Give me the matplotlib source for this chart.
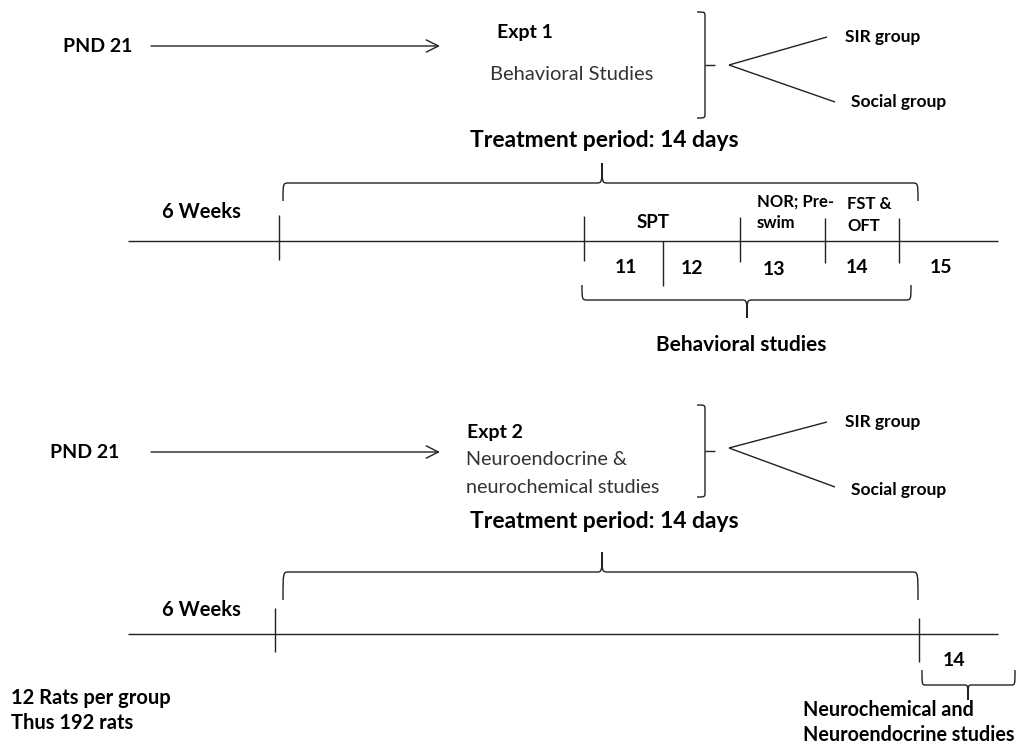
import matplotlib.pyplot as plt
from matplotlib.path import Path
from matplotlib.patches import PathPatch

plt.rcParams['font.family'] = ['Lato', 'DejaVu Sans']

# ---- Diagram content ----
start_label = "PND 21"
expt_titles = ["Expt 1", "Expt 2"]
expt1_desc = ["Behavioral Studies"]
expt2_desc = ["Neuroendocrine &", "neurochemical studies"]
groups = ["SIR group", "Social group"]
period_label = "Treatment period: 14 days"
age_label = "6 Weeks"
day_labels = ["11", "12", "13", "14", "15"]
test_labels = [["SPT"], ["NOR; Pre-", "swim"], ["FST &", "OFT"]]
expt1_end_label = "Behavioral studies"
expt2_day = "14"
expt2_end_label = ["Neurochemical and", "Neuroendocrine studies"]
footnote = ["12 Rats per group", "Thus 192 rats"]

LC = "#222222"
LW = 1.0

fig = plt.figure(figsize=(10.24, 7.48), dpi=100)
ax = fig.add_axes([0, 0, 1, 1])
ax.set_xlim(0, 1024)
ax.set_ylim(748, 0)
ax.axis("off")


def line(x0, y0, x1, y1):
    ax.plot([x0, x1], [y0, y1], color=LC, lw=LW, solid_capstyle="butt")


def lines_text(x, ys, texts, **kw):
    for y, s in zip(ys, texts):
        ax.text(x, y, s, va="center", **kw)


def brace(x0, x1, y, xt, h_end, h_tip, r=6):
    # h_end / h_tip in pixels (positive = downward)
    verts = [(x0, y + h_end), (x0, y), (x0, y), (x0 + r, y),
             (xt - r, y), (xt, y), (xt, y), (xt, y + h_tip),
             (xt, y), (xt, y), (xt + r, y),
             (x1 - r, y), (x1, y), (x1, y), (x1, y + h_end)]
    codes = [Path.MOVETO, Path.CURVE4, Path.CURVE4, Path.CURVE4,
             Path.LINETO, Path.CURVE4, Path.CURVE4, Path.CURVE4,
             Path.CURVE4, Path.CURVE4, Path.CURVE4,
             Path.LINETO, Path.CURVE4, Path.CURVE4, Path.CURVE4]
    ax.add_patch(PathPatch(Path(verts, codes), fill=False, ec=LC, lw=LW))


def bracket(x, ytop, ybot, ymid):
    verts = [(x - 8, ytop), (x, ytop), (x, ytop), (x, ytop + 5),
             (x, ybot - 5), (x, ybot), (x, ybot), (x - 8, ybot)]
    codes = [Path.MOVETO, Path.CURVE4, Path.CURVE4, Path.CURVE4,
             Path.LINETO, Path.CURVE4, Path.CURVE4, Path.CURVE4]
    ax.add_patch(PathPatch(Path(verts, codes), fill=False, ec=LC, lw=LW))
    line(x, ymid, x + 10, ymid)


def header(y0, pnd_x, br_top, br_bot, br_mid, v_apex_y, v_top, v_bot,
           sir_y, soc_y, title_y):
    ax.text(pnd_x, y0, start_label, fontsize=14, fontweight="bold", va="center")
    ax.annotate("", xy=(440, y0), xytext=(151, y0),
                arrowprops=dict(arrowstyle="->", color=LC, lw=LW, mutation_scale=22,
                                shrinkA=0, shrinkB=0))
    bracket(705, br_top, br_bot, br_mid)
    line(729, v_apex_y, 827, v_top)
    line(729, v_apex_y, 835, v_bot)
    ax.text(845, sir_y, groups[0], fontsize=12.5, fontweight="bold", va="center")
    ax.text(851, soc_y, groups[1], fontsize=12.5, fontweight="bold", va="center")
    ax.text(604, title_y, period_label, fontsize=16.5, fontweight="bold",
            ha="center", va="center")


# ================= Experiment 1 =================
header(46, 63, 12, 118, 65, 65, 37, 102, 37, 102, 140)
ax.text(497, 32, expt_titles[0], fontsize=14, fontweight="bold", va="center")
lines_text(490, [74], expt1_desc, fontsize=14.5, color="#333333")

brace(283, 918, 183, 602, 18, -20)
ax.text(162, 212, age_label, fontsize=14.5, fontweight="bold", va="center")
line(128, 241, 998, 241)
line(279, 215, 279, 260)
for x, y0, y1 in [(584, 216, 261), (663, 241, 286), (740, 217, 262),
                  (825, 218, 263), (899, 218, 263)]:
    line(x, y0, x, y1)
lines_text(653, [222], test_labels[0], fontsize=13.5, fontweight="bold", ha="center")
lines_text(757, [202, 223], test_labels[1], fontsize=12, fontweight="bold")
lines_text(847, [204, 226], test_labels[2], fontsize=12, fontweight="bold")
for x, y, lab in zip([626, 692, 774, 857, 941], [267, 268, 269, 267, 267], day_labels):
    ax.text(x, y, lab, fontsize=14, fontweight="bold", ha="center", va="center")
brace(582, 911, 300, 747, -15, 18)
ax.text(741, 345, expt1_end_label, fontsize=15, fontweight="bold", ha="center", va="center")

# ================= Experiment 2 =================
header(452, 50, 405, 497, 451, 448, 422, 487, 422, 490, 522)
ax.text(467, 432, expt_titles[1], fontsize=14, fontweight="bold", va="center")
lines_text(466, [459, 487], expt2_desc, fontsize=14.2, color="#333333")

brace(283, 918, 572, 602, 28, -20)
ax.text(162, 610, age_label, fontsize=14.5, fontweight="bold", va="center")
line(128, 634, 998, 634)
line(275, 608, 275, 652)
line(919, 618, 919, 662)
ax.text(954, 660, expt2_day, fontsize=14, fontweight="bold", ha="center", va="center")
brace(922, 1015, 685, 968, -15, 15, r=4)
lines_text(803, [710, 735], expt2_end_label, fontsize=14.2, fontweight="bold")

lines_text(11, [698, 723], footnote, fontsize=14.5, fontweight="bold")

fig.savefig("out.png", dpi=100)
